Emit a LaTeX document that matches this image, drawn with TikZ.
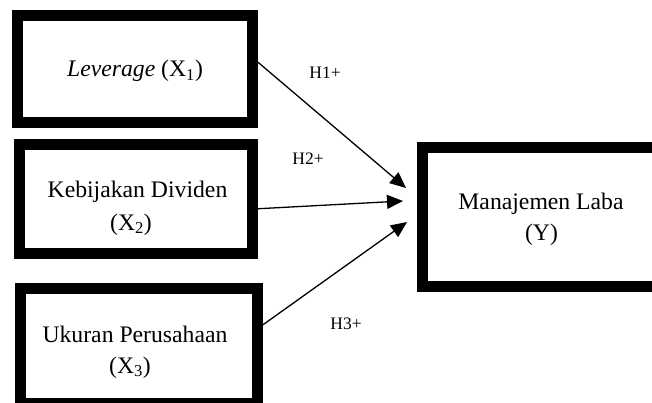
\documentclass[tikz,border=0pt]{standalone}
\usepackage{fontspec}
\setmainfont{Liberation Serif}
\usetikzlibrary{arrows.meta}
\begin{document}
\begin{tikzpicture}[x=1pt,y=-1pt,
  box/.style={draw=black, line width=11pt, rectangle, inner sep=0pt},
  txt/.style={font=\fontsize{23.7}{28}\selectfont, inner sep=0pt, anchor=base},
  hyp/.style={font=\fontsize{17.5}{21}\selectfont, inner sep=0pt, anchor=base},
  conn/.style={line width=1.3pt, -{Triangle[length=16pt,width=14pt]}}]
\useasboundingbox (0,0) rectangle (652,403);
% boxes
\node[box, minimum width=235.5pt, minimum height=107.5pt] (b1) at (134.75,69.25) {};
\node[box, minimum width=233.5pt, minimum height=108.5pt] (b2) at (135.75,198.75) {};
\node[box, minimum width=237pt, minimum height=115.5pt] (b3) at (139,345.75) {};
\node[box, minimum width=237.5pt, minimum height=138.5pt] (y) at (541.25,217.25) {};
% texts
\node[txt] (t1) at (135,77) {\textit{Leverage} (X\textsubscript{1})};
\node[txt] (t2a) at (137.5,197) {Kebijakan Dividen};
\node[txt] (t2b) at (131,230) {(X\textsubscript{2})};
\node[txt] (t3a) at (135,342) {Ukuran Perusahaan};
\node[txt] (t3b) at (130,373) {(X\textsubscript{3})};
\node[txt] (ya) at (541,210) {Manajemen Laba};
\node[txt] (yb) at (541.5,240) {(Y)};
% hypothesis labels
\node[hyp] (h1) at (325,79) {H1+};
\node[hyp] (h2) at (308,165) {H2+};
\node[hyp] (h3) at (346,329) {H3+};
% arrow tips
\coordinate (e1) at (406,188);
\coordinate (e2) at (403,201);
\coordinate (e3) at (407,222);
\draw[conn] ([yshift=7pt]b1.east) -- (e1);
\draw[conn] ([yshift=-10pt]b2.east) -- (e2);
\draw[conn] ([yshift=21pt]b3.east) -- (e3);
\end{tikzpicture}
\end{document}
